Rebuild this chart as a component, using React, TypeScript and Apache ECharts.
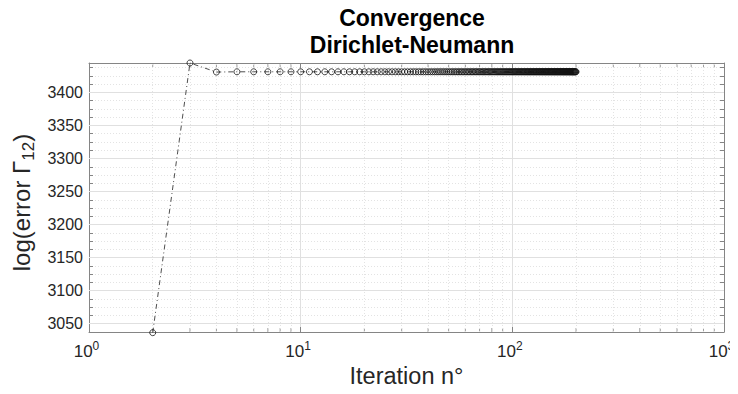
import React, { useEffect, useRef } from "react";
import * as echarts from "echarts";

// Iterations run from 2 to 200
const iterStart = 2;
const iterEnd = 200;

// log(error Γ12) per iteration (2..200)
const errorValues: number[] = [
  3036.5, 3444.5, 3430.8,
  3431.2, 3431.2, 3431.2, 3431.2, 3431.2, 3431.2, 3431.2, 3431.2, 3431.2, 3431.2, 3431.2, 3431.2, 3431.2, 3431.2,
  3431.2, 3431.2, 3431.2, 3431.2, 3431.2, 3431.2, 3431.2, 3431.2, 3431.2, 3431.2, 3431.2, 3431.2, 3431.2, 3431.2,
  3431.2, 3431.2, 3431.2, 3431.2, 3431.2, 3431.2, 3431.2, 3431.2, 3431.2, 3431.2, 3431.2, 3431.2, 3431.2, 3431.2,
  3431.2, 3431.2, 3431.2, 3431.2, 3431.2, 3431.2, 3431.2, 3431.2, 3431.2, 3431.2, 3431.2, 3431.2, 3431.2, 3431.2,
  3431.2, 3431.2, 3431.2, 3431.2, 3431.2, 3431.2, 3431.2, 3431.2, 3431.2, 3431.2, 3431.2, 3431.2, 3431.2, 3431.2,
  3431.2, 3431.2, 3431.2, 3431.2, 3431.2, 3431.2, 3431.2, 3431.2, 3431.2, 3431.2, 3431.2, 3431.2, 3431.2, 3431.2,
  3431.2, 3431.2, 3431.2, 3431.2, 3431.2, 3431.2, 3431.2, 3431.2, 3431.2, 3431.2, 3431.2, 3431.2, 3431.2, 3431.2,
  3431.2, 3431.2, 3431.2, 3431.2, 3431.2, 3431.2, 3431.2, 3431.2, 3431.2, 3431.2, 3431.2, 3431.2, 3431.2, 3431.2,
  3431.2, 3431.2, 3431.2, 3431.2, 3431.2, 3431.2, 3431.2, 3431.2, 3431.2, 3431.2, 3431.2, 3431.2, 3431.2, 3431.2,
  3431.2, 3431.2, 3431.2, 3431.2, 3431.2, 3431.2, 3431.2, 3431.2, 3431.2, 3431.2, 3431.2, 3431.2, 3431.2, 3431.2,
  3431.2, 3431.2, 3431.2, 3431.2, 3431.2, 3431.2, 3431.2, 3431.2, 3431.2, 3431.2, 3431.2, 3431.2, 3431.2, 3431.2,
  3431.2, 3431.2, 3431.2, 3431.2, 3431.2, 3431.2, 3431.2, 3431.2, 3431.2, 3431.2, 3431.2, 3431.2, 3431.2, 3431.2,
  3431.2, 3431.2, 3431.2, 3431.2, 3431.2, 3431.2, 3431.2, 3431.2, 3431.2, 3431.2, 3431.2, 3431.2, 3431.2, 3431.2,
  3431.2, 3431.2, 3431.2, 3431.2, 3431.2, 3431.2, 3431.2, 3431.2, 3431.2, 3431.2, 3431.2, 3431.2, 3431.2, 3431.2,
];

// Axis ranges and ticks
const xMin = 1;
const xMax = 1000;
const xMinorTicks = [2, 3, 4, 5, 6, 7, 8, 9, 20, 30, 40, 50, 60, 70, 80, 90, 200, 300, 400, 500, 600, 700, 800, 900];
const yMin = 3037.5;
const yMax = 3444.5;
const yMinorStep = 12.5;
const yMajorTicks = [3050, 3100, 3150, 3200, 3250, 3300, 3350, 3400];

const FONT = "'Liberation Sans', Arial, Helvetica, sans-serif";
const AXIS_COLOR = "#858585";
const TEXT_COLOR = "#262626";
const MAJOR_GRID = "#e0e0e0";
const MINOR_GRID = "#e3e3e3";

export default function App() {
  const ref = useRef<HTMLDivElement>(null);

  useEffect(() => {
    if (!ref.current) return;
    const chart = echarts.init(ref.current, undefined, { renderer: "svg" });

    const points: [number, number][] = [];
    for (let it = iterStart; it <= iterEnd; it++) {
      points.push([it, errorValues[it - iterStart]]);
    }

    const baseX = {
      type: "log" as const,
      logBase: 10,
      min: xMin,
      max: xMax,
      axisLine: { show: true, onZero: false, lineStyle: { color: AXIS_COLOR, width: 1 } },
      axisTick: { show: true, inside: true, length: 5, lineStyle: { color: AXIS_COLOR, width: 1 } },
      minorTick: { show: false },
    };
    const baseY = {
      type: "value" as const,
      min: yMin,
      max: yMax,
      interval: yMinorStep,
      axisLine: { show: true, onZero: false, lineStyle: { color: AXIS_COLOR, width: 1 } },
      axisTick: { show: true, inside: true, length: 4, lineStyle: { color: AXIS_COLOR, width: 1 } },
    };

    const option: any = {
      animation: false,
      backgroundColor: "#ffffff",
      title: {
        text: "Convergence\nDirichlet-Neumann",
        left: 407,
        top: -1,
        textAlign: "center",
        textStyle: {
          fontFamily: FONT,
          fontWeight: "bold",
          fontSize: 23,
          lineHeight: 27.5,
          color: "#000000",
        },
      },
      grid: { left: 89, right: 14, top: 63, bottom: 62, containLabel: false },
      xAxis: [
        {
          ...baseX,
          position: "bottom",
          name: "Iteration n°",
          nameLocation: "middle",
          nameGap: 29,
          nameTextStyle: { fontFamily: FONT, fontSize: 23.5, color: TEXT_COLOR },
          splitLine: { show: true, lineStyle: { color: MAJOR_GRID, width: 1, type: "solid" } },
          axisLabel: {
            show: true,
            margin: 8,
            padding: [0, 5, 0, 0],
            formatter: (v: number) => `{b|10}{s|${Math.round(Math.log10(v))}}`,
            rich: {
              b: { fontFamily: FONT, fontSize: 17, color: TEXT_COLOR },
              s: { fontFamily: FONT, fontSize: 12, color: TEXT_COLOR, padding: [0, 0, 10, 0] },
            },
          },
        },
        {
          ...baseX,
          position: "top",
          axisLabel: { show: false },
          splitLine: { show: false },
        },
      ],
      yAxis: [
        {
          ...baseY,
          position: "left",
          name: "{a|log(error Γ}{sub|12}{a|)}",
          nameLocation: "middle",
          nameGap: 50,
          nameRotate: 90,
          nameTextStyle: {
            padding: [0, 10, 0, 0],
            rich: {
              a: { fontFamily: FONT, fontSize: 24, color: TEXT_COLOR },
              sub: { fontFamily: FONT, fontSize: 17, color: TEXT_COLOR, padding: [13, 0, 0, 0] },
            },
          },
          splitLine: { show: true, lineStyle: { color: MINOR_GRID, width: 1, type: [1, 2] } },
          axisLabel: {
            show: true,
            margin: 6,
            fontFamily: FONT,
            fontSize: 16,
            color: TEXT_COLOR,
            formatter: (v: number) => (yMajorTicks.indexOf(Math.round(v * 10) / 10) >= 0 ? String(v) : ""),
          },
        },
        {
          ...baseY,
          position: "right",
          axisLabel: { show: false },
          splitLine: { show: false },
        },
      ],
      series: [
        {
          name: "minorTicksBottom",
          type: "scatter",
          xAxisIndex: 0,
          yAxisIndex: 0,
          silent: true,
          clip: false,
          z: 1,
          symbol: "rect",
          symbolSize: [1, 4],
          symbolOffset: [0, -2],
          itemStyle: { color: AXIS_COLOR },
          data: xMinorTicks.map((v) => [v, yMin]),
          markLine: {
            silent: true,
            symbol: "none",
            label: { show: false },
            animation: false,
            data: [
              ...yMajorTicks.map((v) => ({
                yAxis: v,
                lineStyle: { color: MAJOR_GRID, width: 1, type: "solid" },
              })),
              ...xMinorTicks.map((v) => ({
                xAxis: v,
                lineStyle: { color: MINOR_GRID, width: 1, type: [1, 2] },
              })),
            ],
          },
        },
        {
          name: "minorTicksTop",
          type: "scatter",
          xAxisIndex: 0,
          yAxisIndex: 0,
          silent: true,
          clip: false,
          z: 1,
          symbol: "rect",
          symbolSize: [1, 4],
          symbolOffset: [0, 2],
          itemStyle: { color: AXIS_COLOR },
          data: xMinorTicks.map((v) => [v, yMax]),
        },
        {
          name: "error",
          type: "line",
          xAxisIndex: 0,
          yAxisIndex: 0,
          z: 5,
          clip: false,
          data: points,
          symbol: "circle",
          symbolSize: 6,
          showSymbol: true,
          showAllSymbol: true,
          lineStyle: { color: "#3a3a3a", width: 0.9, type: [5, 3, 1, 3] },
          itemStyle: { color: "rgba(255,255,255,0)", borderColor: "#111111", borderWidth: 0.8 },
        },
      ],
    };

    chart.setOption(option);
    return () => chart.dispose();
  }, []);

  return <div ref={ref} style={{ width: 738, height: 394, margin: -8 }} />;
}
